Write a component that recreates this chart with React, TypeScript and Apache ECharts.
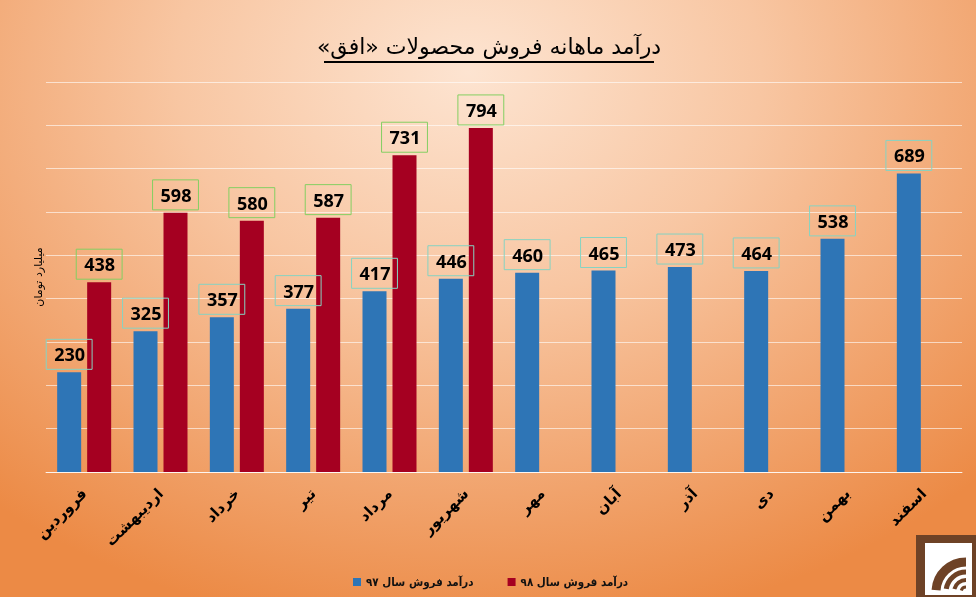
import React, { useEffect, useRef } from "react";
import * as echarts from "echarts";

const months = ["فروردین", "اردیبهشت", "خرداد", "تیر", "مرداد", "شهریور", "مهر", "آبان", "آذر", "دی", "بهمن", "اسفند"];
const sales97 = [230, 325, 357, 377, 417, 446, 460, 465, 473, 464, 538, 689];
const sales98: (number | null)[] = [438, 598, 580, 587, 731, 794, null, null, null, null, null, null];
const seriesNames = ["درآمد فروش سال ۹۷", "درآمد فروش سال ۹۸"];
const titleText = "درآمد ماهانه فروش محصولات «افق»";
const yName = "میلیارد تومان";
const yMax = 900;
const yInterval = 100;

const RLM = "\u200F";

export default function App() {
  const ref = useRef<HTMLDivElement>(null);
  useEffect(() => {
    if (!ref.current) return;
    const chart = echarts.init(ref.current, undefined, { renderer: "svg" });
    const labelBase = {
      show: true,
      position: "top" as const,
      distance: 3,
      color: "#000",
      fontFamily: "Open Sans",
      fontWeight: "bold" as const,
      fontSize: 18,
      lineHeight: 20,
      padding: [5, 7, 5, 8],
      borderWidth: 1,
    };
    chart.setOption({
      animation: false,
      backgroundColor: "transparent",
      grid: { left: 46, right: 14, top: 82, bottom: 125, containLabel: false },
      legend: {
        data: seriesNames,
        top: 571,
        left: 348,
        icon: "rect",
        itemWidth: 8,
        itemHeight: 8,
        itemGap: 34,
        formatter: (n: string) => RLM + n + RLM,
        textStyle: { fontFamily: "DejaVu Sans Condensed, DejaVu Sans", fontWeight: "bold", fontSize: 11.5, color: "#111" },
      },
      xAxis: {
        type: "category",
        data: months,
        axisLine: { lineStyle: { color: "rgba(255,255,255,0.75)", width: 1 } },
        axisTick: { show: false },
        axisLabel: {
          rotate: 45,
          margin: 19,
          interval: 0,
          color: "#000",
          fontFamily: "DejaVu Sans",
          fontWeight: "bold",
          fontSize: 15,
        },
      },
      yAxis: {
        type: "value",
        min: 0,
        max: yMax,
        interval: yInterval,
        axisLabel: { show: false },
        axisLine: { show: false },
        axisTick: { show: false },
        splitLine: { lineStyle: { color: "rgba(255,255,255,0.6)", width: 1 } },
      },
      series: [
        {
          name: seriesNames[0],
          type: "bar",
          data: sales97,
          barWidth: 24,
          barGap: "25%",
          itemStyle: { color: "#2e75b6" },
          label: { ...labelBase, borderColor: "#86d3c2" },
        },
        {
          name: seriesNames[1],
          type: "bar",
          data: sales98,
          barWidth: 24,
          barGap: "25%",
          itemStyle: { color: "#a50021" },
          label: { ...labelBase, borderColor: "#84cf62" },
        },
      ],
      graphic: [
        {
          type: "text",
          x: 489,
          y: 46,
          style: {
            text: RLM + titleText + RLM,
            fontFamily: "DejaVu Sans",
            fontSize: 22,
            fill: "#000",
            align: "center",
            verticalAlign: "middle",
          },
        },
        {
          type: "line",
          shape: { x1: 324, y1: 62, x2: 654, y2: 62 },
          style: { stroke: "#000", lineWidth: 2 },
        },
        {
          type: "text",
          x: 38,
          y: 277,
          rotation: Math.PI / 2,
          style: {
            text: yName,
            fontFamily: "DejaVu Sans",
            fontSize: 11,
            fill: "#000",
            align: "center",
            verticalAlign: "middle",
          },
        },
        {
          type: "rect",
          shape: { x: 916, y: 535, width: 60, height: 62 },
          style: { fill: "#6e4226" },
        },
        {
          type: "rect",
          shape: { x: 925, y: 543, width: 47, height: 52 },
          style: { fill: "#ffffff" },
        },
        {
          type: "arc",
          shape: { cx: 966, cy: 592, r: 30, startAngle: Math.PI * 1.02, endAngle: Math.PI * 1.5 },
          style: { stroke: "#6e4226", lineWidth: 9, fill: "none" },
        },
        {
          type: "arc",
          shape: { cx: 966, cy: 592, r: 20, startAngle: Math.PI * 1.05, endAngle: Math.PI * 1.5 },
          style: { stroke: "#6e4226", lineWidth: 5, fill: "none" },
        },
        {
          type: "arc",
          shape: { cx: 966, cy: 592, r: 12, startAngle: Math.PI * 1.08, endAngle: Math.PI * 1.5 },
          style: { stroke: "#6e4226", lineWidth: 4, fill: "none" },
        },
        {
          type: "arc",
          shape: { cx: 966, cy: 592, r: 5, startAngle: Math.PI * 1.1, endAngle: Math.PI * 1.5 },
          style: { stroke: "#6e4226", lineWidth: 3, fill: "none" },
        },
      ],
    });
    return () => chart.dispose();
  }, []);
  return (
    <div
      ref={ref}
      style={{
        position: "fixed",
        left: 0,
        top: 0,
        width: 976,
        height: 597,
        background:
          "radial-gradient(ellipse 75% 95% at 48% 12%, #fde4d1 0%, #f8c6a2 40%, #f2a874 70%, #ec8a45 100%)",
      }}
    />
  );
}
